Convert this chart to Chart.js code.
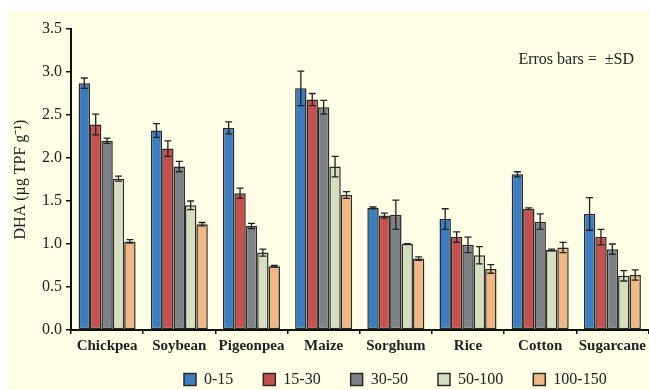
<!DOCTYPE html>
<html>
<head>
<meta charset="utf-8">
<script src="https://cdn.jsdelivr.net/npm/chart.js@4/dist/chart.umd.min.js"></script>
<style>
   html, body { margin:0; padding:0; background:#ffffff; }
   #wrap {
      position:absolute; left:7px; top:11px;
      width:642px; height:379px; background:#fefee6;
   }
</style>
</head>
<body>
<div id="wrap"><canvas id="dha" width="642" height="379"></canvas></div>
<script>

let crops = ["Chickpea","Soybean","Pigeonpea","Maize","Sorghum","Rice","Cotton","Sugarcane"];

let depths = ["0-15","15-30","30-50","50-100","100-150"];

let depthColors = ["#3b7dbf","#c5504e","#7e8287","#d5dfc0","#f0b885"];

/* mean DHA per depth */
let d0_15    = [2.87, 2.32, 2.35, 2.81, 1.42, 1.29, 1.81, 1.35];
let d15_30   = [2.39, 2.11, 1.59, 2.68, 1.33, 1.08, 1.41, 1.08];
let d30_50   = [2.20, 1.90, 1.21, 2.59, 1.34, 0.99, 1.26, 0.94];
let d50_100  = [1.76, 1.45, 0.90, 1.90, 1.00, 0.87, 0.93, 0.63];
let d100_150 = [1.03, 1.23, 0.74, 1.57, 0.83, 0.71, 0.96, 0.64];

/* standard deviation */
let sd0_15    = [0.06, 0.08, 0.07, 0.20, 0.01, 0.12, 0.03, 0.19];
let sd15_30   = [0.12, 0.09, 0.06, 0.07, 0.03, 0.06, 0.01, 0.09];
let sd30_50   = [0.03, 0.06, 0.03, 0.08, 0.17, 0.09, 0.09, 0.06];
let sd50_100  = [0.03, 0.05, 0.04, 0.12, 0.005, 0.10, 0.01, 0.06];
let sd100_150 = [0.02, 0.02, 0.01, 0.04, 0.02, 0.05, 0.06, 0.06];

let yTicks = [0, 0.5, 1.0, 1.5, 2.0, 2.5, 3.0, 3.5];

let means = [d0_15, d15_30, d30_50, d50_100, d100_150];
let sds = [sd0_15, sd15_30, sd30_50, sd50_100, sd100_150];

let serif = "'Liberation Serif', 'Times New Roman', serif";


/* error bars from the bar elements */
let errorBars = {

   id: "errorBars",

   afterDatasetsDraw(chart){

      let ctx = chart.ctx;
      let y = chart.scales.y;

      ctx.save();
      ctx.strokeStyle = "#222";
      ctx.lineWidth = 1.3;

      chart.data.datasets.forEach((ds, i) => {

         let meta = chart.getDatasetMeta(i);

         meta.data.forEach((bar, j) => {

            let v = ds.data[j];
            let s = ds.sd[j];

            let top = y.getPixelForValue(v + s);
            let bot = y.getPixelForValue(v - s);

            ctx.beginPath();
            ctx.moveTo(bar.x, top);
            ctx.lineTo(bar.x, bot);
            ctx.moveTo(bar.x - 3.5, top);
            ctx.lineTo(bar.x + 3.5, top);
            ctx.moveTo(bar.x - 3.5, bot);
            ctx.lineTo(bar.x + 3.5, bot);
            ctx.stroke();

         });

      });

      ctx.restore();

   }

};


/* note text + legend placement */
let notePlugin = {

   id: "notePlugin",

   afterLayout(chart){

      chart.legend.left = 147;
      chart.legend.top = 330.5;

   },

   afterDraw(chart){

      let ctx = chart.ctx;

      ctx.save();
      ctx.font = "16px " + serif;
      ctx.fillStyle = "#222";
      ctx.textAlign = "right";
      ctx.textBaseline = "middle";
      ctx.fillText("Erros bars =  \u00B1SD", 627, 49);
      ctx.restore();

   }

};


let datasets = depths.map((d, i) => ({

   label: d,
   data: means[i],
   sd: sds[i],
   backgroundColor: depthColors[i],
   borderColor: "#2a2a2a",
   borderWidth: 1.5,
   borderSkipped: false

}));


new Chart(document.getElementById("dha"), {

   type: "bar",

   data: {
      labels: crops,
      datasets: datasets
   },

   options: {

      responsive: false,
      animation: false,

      datasets: {
         bar: {
            categoryPercentage: 0.79,
            barPercentage: 1.0
         }
      },

      layout: {
         padding: { top: 18, left: 0, right: 0, bottom: 0 }
      },

      plugins: {

         legend: {
            position: "bottom",
            align: "start",
            maxHeight: 25,
            labels: {
               boxWidth: 12,
               boxHeight: 12,
               padding: 30,
               color: "#222",
               font: { family: serif, size: 16 }
            }
         },

         tooltip: { enabled: false }

      },

      scales: {

         x: {
            afterFit: function(scale){ scale.height = 35; },
            grid: {
               drawOnChartArea: false,
               drawTicks: true,
               tickLength: 4,
               color: "#111",
               lineWidth: 1.5
            },
            border: { color: "#111", width: 2 },
            ticks: {
               padding: 3,
               autoSkip: false,
               maxRotation: 0,
               minRotation: 0,
               color: "#222",
               font: { family: serif, size: 15, weight: "bold" }
            }
         },

         y: {
            min: 0,
            max: 3.5,
            afterFit: function(scale){ scale.width = 64; },
            afterBuildTicks: function(scale){
               scale.ticks = yTicks.map(v => ({ value: v }));
            },
            grid: {
               drawOnChartArea: false,
               drawTicks: true,
               tickLength: 5,
               color: "#111",
               lineWidth: 1.5
            },
            border: { color: "#111", width: 2 },
            ticks: {
               padding: 4,
               color: "#222",
               font: { family: serif, size: 16 },
               callback: function(v){ return Number(v).toFixed(1); }
            },
            title: {
               display: true,
               text: "DHA (\u00B5g TPF g\u207B\u00B9)",
               color: "#222",
               padding: { top: 4, bottom: 0 },
               font: { family: serif, size: 16 }
            }
         }

      }

   },

   plugins: [errorBars, notePlugin]

});

</script>
</body>
</html>
